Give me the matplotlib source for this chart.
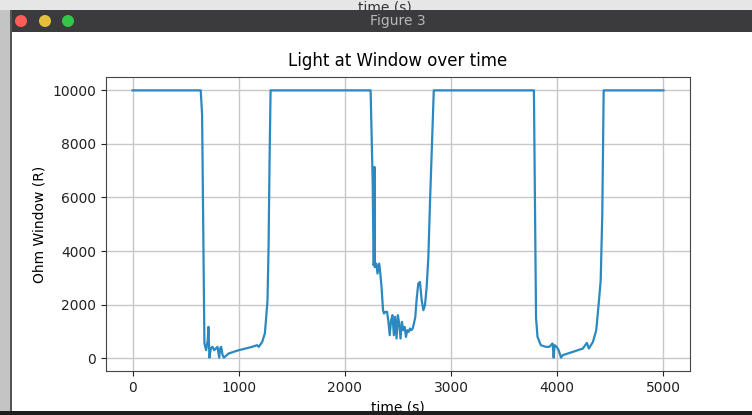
import matplotlib
matplotlib.use("Agg")
import matplotlib.pyplot as plt
from matplotlib.patches import Rectangle, Circle

# light sensor readings at the window (time in s, resistance in ohm)
time_s = [0, 642, 655, 674, 677, 693, 708, 715, 724, 737, 753, 769, 784, 800, 816, 825,
          835, 848, 860, 905, 952, 1000, 1063, 1126, 1173, 1189, 1221, 1246, 1259, 1271,
          1281, 1290, 1300,
          2242, 2262, 2270, 2274, 2278, 2282, 2296, 2307, 2323, 2332, 2345, 2359, 2368,
          2381, 2397, 2410, 2422, 2435, 2448, 2461, 2473, 2486, 2499, 2511, 2524, 2537,
          2549, 2562, 2575, 2587, 2600, 2613, 2625, 2638, 2650, 2663, 2676, 2691, 2707,
          2723, 2739, 2754, 2770, 2786, 2802, 2818, 2837,
          3780, 3800, 3814, 3845, 3893, 3925, 3940, 3956, 3966, 3975, 3994, 4013, 4035,
          4051, 4146, 4241, 4279, 4298, 4336, 4367, 4393, 4409, 4424, 4437,
          5000]
ohm_window = [10000, 10000, 9100, 1660, 547, 298, 672, 1170, 20, 360, 423, 298, 360, 423, 20, 360,
              423, 112, 20, 174, 236, 298, 360, 423, 485, 423, 609, 920, 1542, 2164,
              4150, 7260, 10000,
              10000, 6500, 3470, 3600, 7140, 3400, 3532, 3159, 3532, 3221, 2662, 1791, 1667,
              1729, 1729, 1356, 858, 1418, 1604, 858, 1542, 733, 1604, 1294, 733, 1356,
              1045, 1169, 796, 1045, 983, 1107, 1045, 1107, 1294, 1542, 2226, 2786, 2848,
              2164, 1791, 1978, 2662, 3781, 5896, 7761, 10000,
              10000, 1500, 796, 485, 423, 423, 485, 547, 20, 485, 423, 299, 20,
              112, 235, 360, 571, 360, 609, 1045, 2164, 2910, 5390, 10000,
              10000]

fig = plt.figure(figsize=(7.52, 4.15), dpi=100)

# window frame around the figure
fig.patches.append(Rectangle((0, 405 / 415), 1, 10 / 415, transform=fig.transFigure,
                             facecolor="#e6e6e6", edgecolor="none", zorder=0.2))
fig.text(385 / 752, 1 - 0.5 / 415, "time (s)", ha="center", va="top", fontsize=10,
         color="#333333", zorder=0.5)
fig.patches.append(Rectangle((0, 383 / 415), 1, 22 / 415, transform=fig.transFigure,
                             facecolor="#3b3b3d", edgecolor="none", zorder=1))
fig.text(398 / 752, 1 - 21 / 415, "Figure 3", ha="center", va="center", fontsize=10,
         color="#b8b8b8", zorder=3)
for cx, col in [(21, "#fc5f57"), (45, "#e5bf3c"), (68, "#33c748")]:
    fig.patches.append(Circle((cx / 100, (415 - 21) / 100), 0.06,
                              transform=fig.dpi_scale_trans,
                              facecolor=col, edgecolor="none", zorder=2))
fig.patches.append(Rectangle((0, 0), 10 / 752, 405 / 415, transform=fig.transFigure,
                             facecolor="#c4c4c4", edgecolor="none", zorder=1))
fig.patches.append(Rectangle((10 / 752, 0), 2 / 752, 405 / 415, transform=fig.transFigure,
                             facecolor="#555555", edgecolor="none", zorder=1))
fig.patches.append(Rectangle((0, 0), 1, 4 / 415, transform=fig.transFigure,
                             facecolor="#1e1e1e", edgecolor="none", zorder=4))

ax = fig.add_axes([106 / 752, 44 / 415, 584 / 752, 294 / 415])
ax.plot(time_s, ohm_window, color="#2b88c0", linewidth=1.6)
ax.grid(True, color="#c8c8c8", linewidth=1)
ax.set_axisbelow(True)
ax.set_xticks([0, 1000, 2000, 3000, 4000, 5000])
ax.set_yticks([0, 2000, 4000, 6000, 8000, 10000])
ax.tick_params(labelsize=10, colors="#222222")
for s in ax.spines.values():
    s.set_color("#444444")
ax.set_title("Light at Window over time", fontsize=12, pad=8)
ax.set_xlabel("time (s)", fontsize=10, labelpad=4)
ax.set_ylabel("Ohm Window (R)", fontsize=10)

fig.savefig("out.png", dpi=100)
